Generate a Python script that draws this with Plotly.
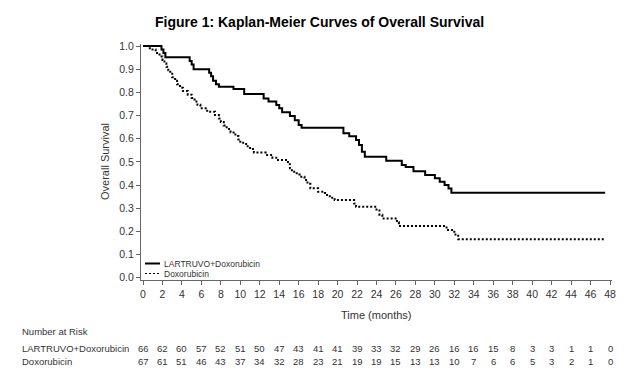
import plotly.graph_objects as go

# ---------------- data ----------------
lart_time = [0, 1.9, 2.1, 2.3, 4.8, 5.0, 5.2, 6.8, 7.0, 7.2, 7.5, 7.8, 9.3, 10.4,
             12.4, 12.9, 13.7, 14.0, 14.3, 15.1, 15.6, 16.0, 16.3, 20.6, 21.2, 21.9,
             22.2, 22.5, 22.8, 25.0, 26.6, 27.0, 27.8, 29.0, 30.0, 30.5, 31.0, 31.4,
             31.7, 47.5]
lart_surv = [1.0, 0.985, 0.970, 0.951, 0.935, 0.920, 0.900, 0.885, 0.870, 0.850,
             0.835, 0.824, 0.814, 0.793, 0.774, 0.760, 0.745, 0.731, 0.714, 0.698,
             0.680, 0.659, 0.647, 0.623, 0.611, 0.594, 0.573, 0.544, 0.522, 0.505,
             0.486, 0.478, 0.460, 0.443, 0.429, 0.414, 0.400, 0.385, 0.367, 0.367]

doxo_time = [0, 0.7, 1.3, 1.7, 2.0, 2.2, 2.4, 2.6, 2.8, 3.0, 3.3, 3.5, 3.8, 4.1,
             4.6, 5.0, 5.3, 5.6, 5.9, 6.6, 7.4, 7.8, 8.0, 8.3, 8.6, 9.0, 9.5, 9.8,
             10.0, 10.6, 11.0, 11.4, 12.6, 13.3, 13.7, 14.9, 15.1, 15.3, 15.8, 16.1,
             16.6, 16.9, 17.2, 18.0, 18.7, 19.2, 19.7, 21.7, 21.9, 24.0, 24.3, 24.6,
             26.1, 26.3, 31.2, 32.0, 32.4, 47.5]
doxo_surv = [1.0, 0.985, 0.970, 0.955, 0.940, 0.925, 0.910, 0.895, 0.880, 0.865,
             0.850, 0.835, 0.820, 0.806, 0.790, 0.776, 0.760, 0.746, 0.731, 0.716,
             0.702, 0.687, 0.672, 0.657, 0.642, 0.627, 0.612, 0.597, 0.582, 0.567,
             0.555, 0.540, 0.530, 0.518, 0.508, 0.490, 0.472, 0.457, 0.445, 0.436,
             0.422, 0.405, 0.386, 0.371, 0.357, 0.345, 0.335, 0.320, 0.306, 0.290,
             0.272, 0.256, 0.239, 0.223, 0.206, 0.186, 0.166, 0.166]

risk_times = [0, 2, 4, 6, 8, 10, 12, 14, 16, 18, 20, 22, 24, 26, 28, 30, 32, 34,
              36, 38, 40, 42, 44, 46, 48]
risk_lart = [66, 62, 60, 57, 52, 51, 50, 47, 43, 41, 41, 39, 33, 32, 29, 26, 16, 16,
             15, 8, 3, 3, 1, 1, 0]
risk_doxo = [67, 61, 51, 46, 43, 37, 34, 32, 28, 23, 21, 19, 19, 15, 13, 13, 10, 7,
             6, 6, 5, 3, 2, 1, 0]

series_names = ["LARTRUVO+Doxorubicin", "Doxorubicin"]

# ---------------- layout helpers ----------------
# the page body has an 8px margin, so the figure is 8px smaller and all
# page-pixel positions below are shifted by that offset
OFF = 8
W, H = 640 - OFF, 374 - OFF
L = 141 - OFF
R = 640 - 612
T = 44 - OFF
B = H - (280 - OFF)
pw, ph = W - L - R, H - T - B


def px(xp):
    return (xp - OFF - L) / pw


def py(yp):
    return (H - B - (yp - OFF)) / ph


FONT = "Arial, Liberation Sans, sans-serif"
TXT = "#333333"
AX = "#666666"

fig = go.Figure()
fig.add_trace(go.Scatter(x=lart_time, y=lart_surv, mode="lines", name=series_names[0],
                         line=dict(shape="hv", color="black", width=2), showlegend=False))
fig.add_trace(go.Scatter(x=doxo_time, y=doxo_surv, mode="lines", name=series_names[1],
                         line=dict(shape="hv", color="black", width=2, dash="2px,2px"),
                         showlegend=False))

ann = []
shapes = []
# title
ann.append(dict(text="<b>Figure 1: Kaplan-Meier Curves of Overall Survival</b>",
                x=px(319), y=py(22), xref="paper", yref="paper", showarrow=False,
                xanchor="center", yanchor="middle", font=dict(family=FONT, size=14, color="black")))
# axis titles
ann.append(dict(text="Time (months)", x=px(376), y=py(315), xref="paper", yref="paper",
                showarrow=False, xanchor="center", yanchor="middle",
                font=dict(family=FONT, size=11, color=TXT)))
ann.append(dict(text="Overall Survival", x=px(105), y=py(162), xref="paper", yref="paper",
                showarrow=False, xanchor="center", yanchor="middle", textangle=-90,
                font=dict(family=FONT, size=11, color=TXT)))
# number at risk table
ann.append(dict(text="Number at Risk", x=px(20), y=py(331), xref="paper", yref="paper",
                showarrow=False, xanchor="left", yanchor="middle",
                font=dict(family=FONT, size=9.5, color=TXT)))
for name, row, yp in [(series_names[0], risk_lart, 348), (series_names[1], risk_doxo, 361)]:
    ann.append(dict(text=name, x=px(20), y=py(yp), xref="paper", yref="paper",
                    showarrow=False, xanchor="left", yanchor="middle",
                    font=dict(family=FONT, size=9.5, color=TXT)))
    for t, n in zip(risk_times, row):
        ann.append(dict(text=str(n), x=t, y=py(yp), xref="x", yref="paper",
                        showarrow=False, xanchor="center", yanchor="middle",
                        font=dict(family=FONT, size=9.5, color=TXT)))
# legend (manual)
for name, dash, yp in [(series_names[0], "solid", 263.5), (series_names[1], "2px,2px", 273.5)]:
    shapes.append(dict(type="line", xref="paper", yref="paper",
                       x0=px(145), x1=px(160), y0=py(yp), y1=py(yp),
                       line=dict(color="black", width=2 if dash == "solid" else 1, dash=dash)))
    ann.append(dict(text=name, x=px(162), y=py(yp), xref="paper", yref="paper",
                    showarrow=False, xanchor="left", yanchor="middle",
                    font=dict(family=FONT, size=8.5, color=TXT)))

fig.update_layout(
    width=W, height=H, autosize=False,
    margin=dict(l=L, r=R, t=T, b=B, pad=0),
    paper_bgcolor="white", plot_bgcolor="white",
    annotations=ann, shapes=shapes, showlegend=False,
    xaxis=dict(range=[-0.2056, 48.2056], tickmode="array", tickvals=risk_times,
               ticktext=[str(t) for t in risk_times],
               showline=True, linecolor=AX, linewidth=1, ticks="outside", ticklen=4,
               tickcolor=AX, showgrid=False, zeroline=False,
               tickfont=dict(family=FONT, size=10.5, color=TXT)),
    yaxis=dict(range=[-0.0099, 1.0087], dtick=0.1, tick0=0, tickformat=".1f",
               showline=True, linecolor=AX, linewidth=1, ticks="outside", ticklen=4,
               tickcolor=AX, showgrid=False, zeroline=False,
               tickfont=dict(family=FONT, size=10.5, color=TXT)),
)

fig.write_html("out.html")
